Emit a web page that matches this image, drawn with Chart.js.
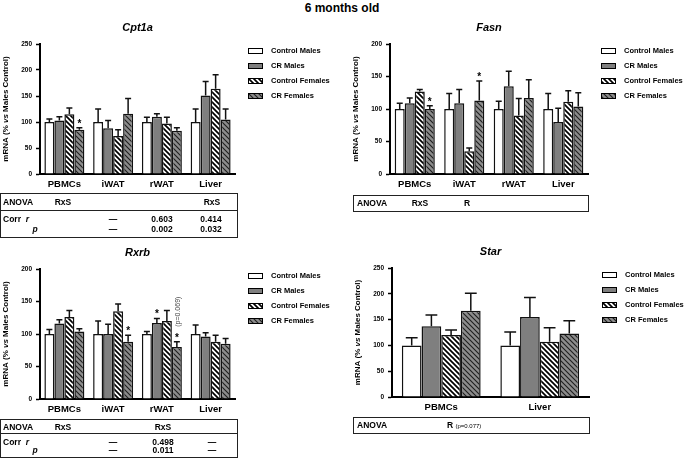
<!DOCTYPE html>
<html>
<head>
<meta charset="utf-8">
<script src="https://cdn.jsdelivr.net/npm/chart.js@4.4.1/dist/chart.umd.min.js"></script>
<style>
    body { margin: 0; background: #fff; }
    #page { position: relative; width: 685px; height: 462px; overflow: hidden; font-family: "Liberation Sans", Arial, sans-serif; color: #000; }
    canvas { position: absolute; }
    .box { position: absolute; border: 1px solid #222; box-sizing: border-box; }
    .rule { position: absolute; height: 0; border-top: 1px solid #222; }
    .t { position: absolute; font-weight: bold; font-size: 8.5px; line-height: 1; white-space: nowrap; }
</style>
</head>
<body>
<div id="page">
    <div class="t" style="left:342px;top:8px;font-size:12px;transform:translate(-50%,-50%)">6 months old</div>
    <canvas id="cpt1aChart" width="340" height="175" style="left:0;top:20px"></canvas>
    <canvas id="fasnChart" width="340" height="175" style="left:345px;top:20px"></canvas>
    <canvas id="rxrbChart" width="340" height="175" style="left:0;top:245px"></canvas>
    <canvas id="starChart" width="340" height="175" style="left:345px;top:245px"></canvas>
</div>
<script>
    const groupLabels = ['Control Males', 'CR Males', 'Control Females', 'CR Females'];

    // Cpt1a
    const cpt1aCategories = ['PBMCs', 'iWAT', 'rWAT', 'Liver'];
    const cpt1aMeans = [[100, 100, 100, 100], [103, 88, 110, 151], [115, 73, 97, 164], [85, 116, 83, 105]];
    const cpt1aSem = [[6, 25, 9, 25], [7, 15, 6, 27], [12, 12, 12, 27], [4, 29, 6, 20]];
    const cpt1aYMax = 250;
    const cpt1aStars = [[3, 0]];

    // Fasn
    const fasnCategories = ['PBMCs', 'iWAT', 'rWAT', 'Liver'];
    const fasnMeans = [[100, 100, 100, 100], [109, 109, 135, 80], [127, 35, 90, 111], [100, 113, 117, 104]];
    const fasnSem = [[9, 24, 12, 24], [8, 21, 23, 21], [3, 5, 26, 17], [5, 30, 28, 21]];
    const fasnYMax = 200;
    const fasnStars = [[3, 0], [3, 1]];

    // Rxrb
    const rxrbCategories = ['PBMCs', 'iWAT', 'rWAT', 'Liver'];
    const rxrbMeans = [[100, 100, 100, 100], [116, 100, 117, 96], [126, 135, 120, 88], [104, 88, 80, 85]];
    const rxrbSem = [[7, 20, 4, 14], [6, 15, 7, 6], [10, 11, 16, 10], [4, 10, 8, 8]];
    const rxrbYMax = 200;
    const rxrbStars = [[3, 1], [1, 2], [3, 2]];
    const rxrbNotes = [[3, 2, '(p=0.069)']];

    // Star
    const starCategories = ['PBMCs', 'Liver'];
    const starMeans = [[100, 100], [137, 155], [120, 107], [167, 123]];
    const starSem = [[15, 26], [22, 38], [10, 27], [34, 25]];
    const starYMax = 250;

    const FONT = '"Liberation Sans", Arial, sans-serif';

    function hatch(bg, fg, lw) {
        const s = 5;
        const c = document.createElement('canvas');
        c.width = s;
        c.height = s;
        const g = c.getContext('2d');
        g.fillStyle = bg;
        g.fillRect(0, 0, s, s);
        g.strokeStyle = fg;
        g.lineWidth = lw;
        g.beginPath();
        for (let k = -1; k <= 1; k++) {
            g.moveTo(k * s - 1, -1);
            g.lineTo(k * s + s + 1, s + 1);
        }
        g.stroke();
        return g.createPattern(c, 'repeat');
    }

    const seriesFills = ['#ffffff', '#7f7f7f', hatch('#ffffff', '#000000', 1.7), hatch('#8c8c8c', '#1e1e1e', 1.1)];

    function makeDecor(panel) {
        return {
            id: 'panelDecor',
            afterDatasetsDraw(chart) {
                const ctx = chart.ctx;
                const y = chart.scales.y;
                ctx.save();
                ctx.strokeStyle = '#111';
                ctx.lineWidth = 1.5;
                chart.data.datasets.forEach((ds, di) => {
                    chart.getDatasetMeta(di).data.forEach((bar, i) => {
                        const top = y.getPixelForValue(ds.data[i] + ds.sem[i]);
                        const cap = bar.width * 0.3;
                        ctx.beginPath();
                        ctx.moveTo(bar.x, bar.y);
                        ctx.lineTo(bar.x, top);
                        ctx.moveTo(bar.x - cap, top);
                        ctx.lineTo(bar.x + cap, top);
                        ctx.stroke();
                    });
                });
                ctx.restore();
            },
            afterDraw(chart) {
                const ctx = chart.ctx;
                const area = chart.chartArea;
                const y = chart.scales.y;
                const datasets = chart.data.datasets;
                ctx.save();

                // panel title
                ctx.fillStyle = '#000';
                ctx.font = `italic bold 11px ${FONT}`;
                ctx.textAlign = 'center';
                ctx.textBaseline = 'middle';
                ctx.fillText(panel.title, (area.left + area.right) / 2, area.top - 16);

                // y axis title, "vs" in italics
                const parts = [['mRNA (% ', 'bold'], ['vs', 'italic bold'], [' Males Control)', 'bold']];
                ctx.save();
                ctx.translate(area.left - 34, (area.top + area.bottom) / 2);
                ctx.rotate(-Math.PI / 2);
                let total = 0;
                parts.forEach(p => {
                    ctx.font = `${p[1]} 8px ${FONT}`;
                    total += ctx.measureText(p[0]).width;
                });
                let px = -total / 2;
                ctx.textAlign = 'left';
                parts.forEach(p => {
                    ctx.font = `${p[1]} 8px ${FONT}`;
                    ctx.fillText(p[0], px, 0);
                    px += ctx.measureText(p[0]).width;
                });
                ctx.restore();

                // stars over error bars
                ctx.font = `bold 10px ${FONT}`;
                ctx.textAlign = 'center';
                ctx.textBaseline = 'alphabetic';
                (panel.stars || []).forEach(([di, i]) => {
                    const bar = chart.getDatasetMeta(di).data[i];
                    const top = y.getPixelForValue(datasets[di].data[i] + datasets[di].sem[i]);
                    ctx.fillText('*', bar.x, top - 1);
                });
                (panel.notes || []).forEach(([di, i, text]) => {
                    const bar = chart.getDatasetMeta(di).data[i];
                    const top = y.getPixelForValue(datasets[di].data[i] + datasets[di].sem[i]);
                    ctx.save();
                    ctx.translate(bar.x + 1, top - 15);
                    ctx.rotate(-Math.PI / 2);
                    ctx.font = `7px ${FONT}`;
                    ctx.fillStyle = '#444';
                    ctx.textAlign = 'left';
                    ctx.textBaseline = 'middle';
                    ctx.fillText(text, 0, 0);
                    ctx.restore();
                });

                // legend
                const lx = area.right + 13;
                let ly = area.top + 7;
                ctx.font = `bold 7.5px ${FONT}`;
                ctx.textAlign = 'left';
                ctx.textBaseline = 'middle';
                ctx.lineWidth = 1;
                ctx.strokeStyle = '#000';
                datasets.forEach(ds => {
                    ctx.fillStyle = ds.backgroundColor;
                    ctx.fillRect(lx, ly - 2.5, 14, 5);
                    ctx.strokeRect(lx + 0.5, ly - 2.5, 14, 5);
                    ctx.fillStyle = '#000';
                    ctx.fillText(ds.label, lx + 23, ly);
                    ly += 15;
                });
                ctx.restore();
            }
        };
    }

    function drawPanel(canvasId, panel) {
        const datasets = panel.means.map((values, si) => ({
            label: groupLabels[si],
            data: values,
            sem: panel.sem[si],
            backgroundColor: seriesFills[si],
            borderColor: '#111',
            borderWidth: 1.5,
        }));

        return new Chart(document.getElementById(canvasId), {
            type: 'bar',
            data: {labels: panel.categories, datasets: datasets},
            options: {
                responsive: false,
                animation: false,
                events: [],
                layout: {padding: {top: panel.padTop, right: panel.padRight, left: 0, bottom: 0}},
                datasets: {bar: {categoryPercentage: panel.groupWidth, barPercentage: 1}},
                plugins: {legend: {display: false}, tooltip: {enabled: false}},
                scales: {
                    x: {
                        grid: {display: false, drawTicks: false},
                        border: {display: true, color: '#000', width: 2},
                        ticks: {color: '#000', font: {family: FONT, size: 9.5, weight: 'bold'}, padding: 5},
                        afterFit: s => { s.height = panel.xHeight; }
                    },
                    y: {
                        min: 0,
                        max: panel.yMax,
                        grid: {display: true, drawOnChartArea: false, drawTicks: true, tickLength: 4, tickWidth: 1.5, color: '#000'},
                        border: {display: true, color: '#000', width: 2},
                        ticks: {stepSize: 50, color: '#000', font: {family: FONT, size: 6.5, weight: 'bold'}, padding: 4},
                        afterFit: s => { s.width = panel.yWidth; }
                    }
                }
            },
            plugins: [makeDecor(panel)]
        });
    }

    drawPanel('cpt1aChart', {
        title: 'Cpt1a', categories: cpt1aCategories, means: cpt1aMeans, sem: cpt1aSem, yMax: cpt1aYMax,
        stars: cpt1aStars, padTop: 24, padRight: 105, yWidth: 40, xHeight: 21, groupWidth: 0.82
    });
    drawPanel('fasnChart', {
        title: 'Fasn', categories: fasnCategories, means: fasnMeans, sem: fasnSem, yMax: fasnYMax,
        stars: fasnStars, padTop: 24, padRight: 97, yWidth: 45, xHeight: 21, groupWidth: 0.81
    });
    drawPanel('rxrbChart', {
        title: 'Rxrb', categories: rxrbCategories, means: rxrbMeans, sem: rxrbSem, yMax: rxrbYMax,
        stars: rxrbStars, notes: rxrbNotes, padTop: 24, padRight: 105, yWidth: 40, xHeight: 21, groupWidth: 0.82
    });
    drawPanel('starChart', {
        title: 'Star', categories: starCategories, means: starMeans, sem: starSem, yMax: starYMax,
        padTop: 23, padRight: 96, yWidth: 47, xHeight: 23, groupWidth: 0.8
    });

    // statistics tables under the panels
    const page = document.getElementById('page');

    function box(left, top, width, height) {
        const el = document.createElement('div');
        el.className = 'box';
        el.style.cssText = `left:${left}px;top:${top}px;width:${width}px;height:${height}px`;
        page.appendChild(el);
    }

    function rule(left, top, width) {
        const el = document.createElement('div');
        el.className = 'rule';
        el.style.cssText = `left:${left}px;top:${top}px;width:${width}px`;
        page.appendChild(el);
    }

    function text(html, x, y, align, extra) {
        const el = document.createElement('div');
        el.className = 't';
        el.innerHTML = html;
        const shift = align === 'left' ? '0' : '-50%';
        el.style.cssText = `left:${x}px;top:${y}px;transform:translate(${shift},-50%);${extra || ''}`;
        page.appendChild(el);
    }

    box(0, 193, 238, 45);
    rule(0, 210, 238);
    text('ANOVA', 3, 202, 'left');
    text('RxS', 63, 202);
    text('RxS', 212, 202);
    text('Corr&nbsp;&nbsp;<i>r</i>', 3, 219, 'left');
    text('<i>p</i>', 35, 229);
    text('—', 113, 219);
    text('—', 113, 229);
    text('0.603', 162, 219);
    text('0.002', 162, 229);
    text('0.414', 211, 219);
    text('0.032', 211, 229);

    box(353, 195, 236, 17);
    text('ANOVA', 357, 203, 'left');
    text('RxS', 420, 203);
    text('R', 467, 203);

    box(0, 419, 238, 39);
    rule(0, 433, 238);
    text('ANOVA', 3, 427, 'left');
    text('RxS', 63, 427);
    text('RxS', 163, 427);
    text('Corr&nbsp;&nbsp;<i>r</i>', 3, 442, 'left');
    text('<i>p</i>', 35, 450);
    text('—', 113, 442);
    text('—', 113, 450);
    text('0.498', 163, 442);
    text('0.011', 163, 450);
    text('—', 212, 442);
    text('—', 212, 450);

    box(353, 417, 237, 17);
    text('ANOVA', 357, 425, 'left');
    text('R <span style="font-weight:normal;font-size:6px">(p=0.077)</span>', 447, 425, 'left');
</script>
</body>
</html>
